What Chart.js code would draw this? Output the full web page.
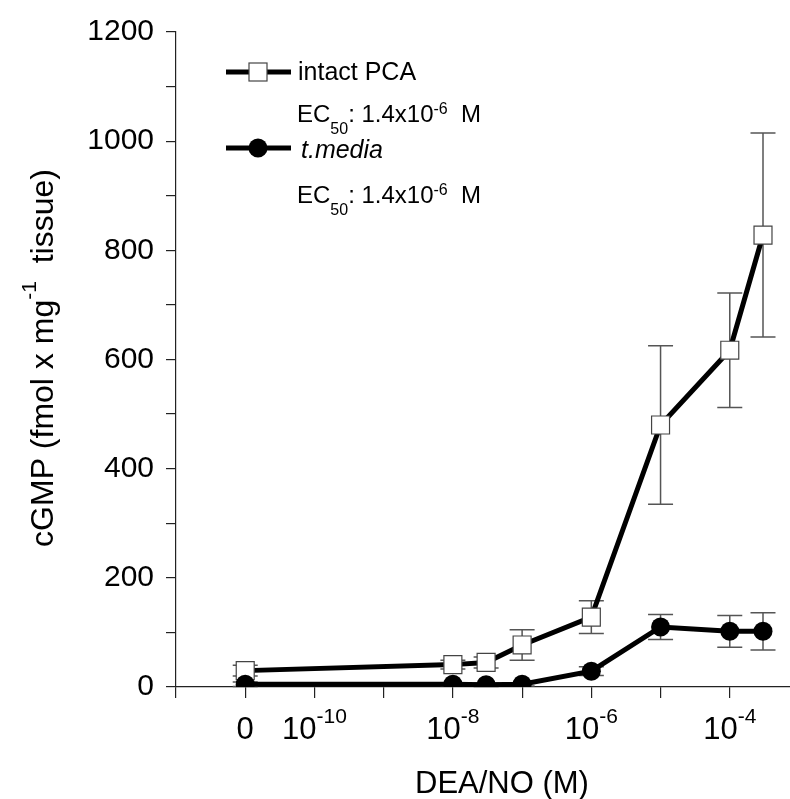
<!DOCTYPE html>
<html>
<head>
<meta charset="utf-8">
<script src="https://cdn.jsdelivr.net/npm/chart.js@4.4.0/dist/chart.umd.min.js"></script>
<style>
  html, body { margin: 0; padding: 0; background: #fff; }
</style>
</head>
<body>
<canvas id="chart" width="790" height="799"></canvas>
<script>
  // log10 of DEA/NO dose; the "0" dose sits at -11 on the axis
  const logDose = [-11, -8, -7.52, -7, -6, -5, -4, -3.52];
  const intactPCA = [30, 41, 45, 77, 128, 480, 617, 828];
  const intactErr = [10, 8, 10, 28, 30, 145, 105, 187];
  const tMedia = [5, 5, 4, 5, 29, 110, 102, 102];
  const tMediaErr = [4, 3, 3, 3, 8, 23, 29, 34];

  const xTickValues = [-11, -10, -8, -6, -4];
  const xTickBase = ['0', '10', '10', '10', '10'];
  const xTickExp = ['', '-10', '-8', '-6', '-4'];

  const FONT = '"Liberation Sans", Arial, sans-serif';

  const toPoints = (vals) => vals.map((v, i) => ({ x: logDose[i], y: v }));

  const errorBars = {
    id: 'errorBars',
    beforeDatasetsDraw(chart) {
      const { ctx, scales: { x, y } } = chart;
      const sets = [[intactPCA, intactErr], [tMedia, tMediaErr]];
      ctx.save();
      ctx.strokeStyle = '#555';
      ctx.lineWidth = 1.5;
      sets.forEach(([vals, errs]) => {
        vals.forEach((v, i) => {
          const px = x.getPixelForValue(logDose[i]);
          const top = y.getPixelForValue(v + errs[i]);
          const bot = y.getPixelForValue(v - errs[i]);
          ctx.beginPath();
          ctx.moveTo(px, top); ctx.lineTo(px, bot);
          ctx.moveTo(px - 12.5, top); ctx.lineTo(px + 12.5, top);
          ctx.moveTo(px - 12.5, bot); ctx.lineTo(px + 12.5, bot);
          ctx.stroke();
        });
      });
      ctx.restore();
    }
  };

  // draws text pieces one after another, small ones shifted by dy
  function textRun(ctx, parts, x, y) {
    parts.forEach(p => {
      ctx.font = (p.italic ? 'italic ' : '') + p.size + 'px ' + FONT;
      ctx.fillText(p.t, x, y + (p.dy || 0));
      x += ctx.measureText(p.t).width;
    });
    return x;
  }

  function runWidth(ctx, parts) {
    let w = 0;
    parts.forEach(p => { ctx.font = p.size + 'px ' + FONT; w += ctx.measureText(p.t).width; });
    return w;
  }

  const extras = {
    id: 'extras',
    afterDraw(chart) {
      const { ctx, scales: { x } } = chart;
      ctx.save();
      ctx.fillStyle = '#000';
      ctx.textBaseline = 'alphabetic';
      ctx.textAlign = 'left';

      // x tick labels with exponents
      xTickValues.forEach((v, i) => {
        const parts = [{ t: xTickBase[i], size: 31 }];
        if (xTickExp[i]) parts.push({ t: xTickExp[i], size: 21, dy: -16 });
        textRun(ctx, parts, x.getPixelForValue(v) - runWidth(ctx, parts) / 2, 739);
      });

      // x title
      ctx.font = '31px ' + FONT;
      ctx.fillText('DEA/NO (M)', 415, 793);

      // y title, rotated
      ctx.save();
      ctx.translate(53, 358);
      ctx.rotate(-Math.PI / 2);
      const yParts = [
        { t: 'cGMP (fmol x mg', size: 32 },
        { t: '-1', size: 21, dy: -17 },
        { t: '  tissue)', size: 32 }
      ];
      textRun(ctx, yParts, -runWidth(ctx, yParts) / 2, 0);
      ctx.restore();

      // legend
      ctx.strokeStyle = '#000';
      ctx.lineWidth = 5;
      ctx.beginPath();
      ctx.moveTo(226, 72); ctx.lineTo(291, 72);
      ctx.moveTo(226, 148); ctx.lineTo(291, 148);
      ctx.stroke();
      ctx.fillStyle = '#fff';
      ctx.strokeStyle = '#444';
      ctx.lineWidth = 1.2;
      ctx.fillRect(249, 63, 18, 18);
      ctx.strokeRect(249, 63, 18, 18);
      ctx.fillStyle = '#000';
      ctx.beginPath();
      ctx.arc(258, 148, 9.5, 0, Math.PI * 2);
      ctx.fill();

      textRun(ctx, [{ t: 'intact PCA', size: 25 }], 298, 80);
      textRun(ctx, [{ t: 't.media', size: 25, italic: true }], 301, 158);
      const ec = [
        { t: 'EC', size: 24 },
        { t: '50', size: 16, dy: 12 },
        { t: ': 1.4x10', size: 24 },
        { t: '-6', size: 16, dy: -8 },
        { t: '  M', size: 24 }
      ];
      textRun(ctx, ec, 297, 122);
      textRun(ctx, ec, 297, 203);
      ctx.restore();
    }
  };

  new Chart(document.getElementById('chart'), {
    type: 'line',
    data: {
      datasets: [
        {
          label: 'intact PCA',
          data: toPoints(intactPCA),
          borderColor: '#000',
          borderWidth: 5,
          pointStyle: 'rect',
          pointRadius: 12.7,
          pointBackgroundColor: '#fff',
          pointBorderColor: '#444',
          pointBorderWidth: 1.2,
          order: 2
        },
        {
          label: 't.media',
          data: toPoints(tMedia),
          borderColor: '#000',
          borderWidth: 5,
          pointStyle: 'circle',
          pointRadius: 9.5,
          pointBackgroundColor: '#000',
          pointBorderColor: '#000',
          pointBorderWidth: 0,
          order: 1
        }
      ]
    },
    options: {
      responsive: false,
      animation: false,
      layout: { autoPadding: false, padding: { top: 32, right: 0, left: 0, bottom: 0 } },
      plugins: { legend: { display: false }, tooltip: { enabled: false } },
      scales: {
        x: {
          type: 'linear',
          min: -12,
          max: -3.13,
          afterBuildTicks(scale) {
            const t = [];
            for (let v = -12; v <= -4; v++) t.push({ value: v });
            scale.ticks = t;
          },
          afterFit(scale) { scale.height = 112; },
          ticks: { display: false },
          grid: { drawOnChartArea: false, tickLength: 11, color: '#222', lineWidth: 1.2 },
          border: { color: '#222', width: 1.2 }
        },
        y: {
          min: 0,
          max: 1200,
          afterFit(scale) { scale.width = 176; },
          ticks: {
            stepSize: 100,
            autoSkip: false,
            padding: 12,
            color: '#000',
            font: { family: FONT, size: 30 },
            callback: (v) => (v % 200 === 0 ? v : '')
          },
          grid: { drawOnChartArea: false, tickLength: 10, color: '#222', lineWidth: 1.2 },
          border: { color: '#222', width: 1.2 }
        }
      }
    },
    plugins: [errorBars, extras]
  });
</script>
</body>
</html>
